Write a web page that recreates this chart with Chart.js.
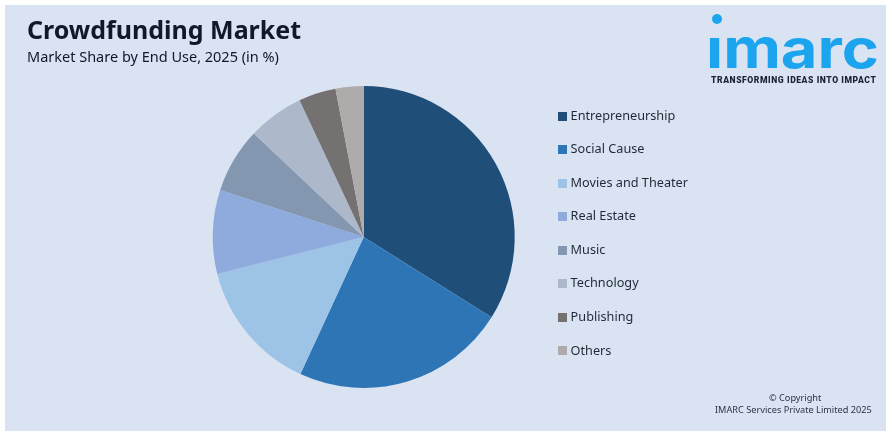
<!DOCTYPE html>
<html><head><meta charset="utf-8">
<script src="https://cdn.jsdelivr.net/npm/chart.js@4"></script>
<style>
html,body{margin:0;padding:0;background:#fff;width:892px;height:436px;overflow:hidden}
#panel{position:absolute;left:5px;top:5px;width:881px;height:426px;background:#D9E3F2}
canvas{position:absolute;left:0;top:0}
.t{position:absolute;white-space:nowrap;font-family:"Noto Sans",sans-serif;color:#111827}
</style></head><body>
<div id="panel"></div>
<div style="position:absolute;left:0;top:0;width:892px;height:436px"><canvas id="c" width="892" height="436"></canvas></div>
<div class="t" style="left:27px;top:11px;font-size:25px;font-weight:700;line-height:36px">Crowdfunding Market</div>
<div class="t" style="left:27px;top:46px;font-size:14.5px;line-height:20px">Market Share by End Use, 2025 (in %)</div>
<div style="position:absolute;left:712px;top:14px;width:10px;height:10px;border-radius:50%;background:#1CA4EE"></div>
<div class="t" id="logo" style="left:706px;top:12px;font-family:Inter,sans-serif;font-size:55px;font-weight:700;line-height:72px;color:#1CA4EE;transform-origin:0 0;transform:scaleX(1.15)">ımarc</div>
<div class="t" style="left:711px;top:74px;font-family:Roboto,sans-serif;font-size:8.6px;font-weight:900;line-height:12px;letter-spacing:.56px;color:#1a2433">TRANSFORMING IDEAS INTO IMPACT</div>
<div class="t" style="left:769px;top:391px;font-size:9.2px;line-height:14px;color:#2b3442">© Copyright</div>
<div class="t" style="left:715px;top:403px;font-size:9.2px;line-height:14px;color:#2b3442">IMARC Services Private Limited 2025</div>
<script>
const categories=["Entrepreneurship","Social Cause","Movies and Theater","Real Estate","Music","Technology","Publishing","Others"];
const shares=[34,23,14.2,9,7,6,4,3];
const colors=["#1F4E79","#2E75B6","#9DC3E6","#8FAADC","#8497B0","#ADB9CA","#767171","#AFABAB"];
const swatch=col=>{const s=document.createElement('canvas');s.width=9;s.height=9;const g=s.getContext('2d');g.fillStyle=col;g.fillRect(0,0,9,9);return s;};
const swatches=colors.map(swatch);
const shiftLegend={id:'shiftLegend',afterLayout(chart){chart.legend.top-=3.5;chart.legend.bottom-=3.5;}};
new Chart(document.getElementById('c'),{
 type:'pie',
 data:{labels:categories,datasets:[{data:shares,backgroundColor:colors,borderWidth:0}]},
 plugins:[shiftLegend],
 options:{responsive:false,animation:false,
  layout:{padding:{left:187,top:86,bottom:48,right:194}},
  plugins:{tooltip:{enabled:false},title:{display:false},
   legend:{position:'right',align:'center',
    labels:{boxWidth:9,boxHeight:9,usePointStyle:true,pointStyleWidth:3,padding:20.85,color:'#1f2937',font:{family:'"Noto Sans"',size:12.7},
     generateLabels(chart){return Chart.overrides.pie.plugins.legend.labels.generateLabels(chart).map((l,i)=>({...l,pointStyle:swatches[i]}));}}}}}
});
</script>
</body></html>
